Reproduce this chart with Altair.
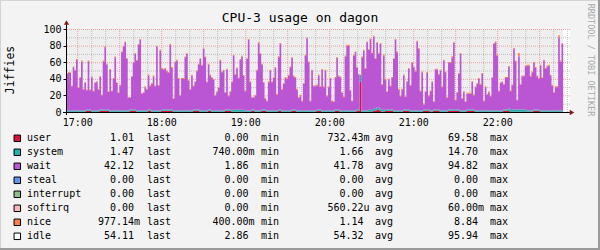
import altair as alt
import pandas as pd

TITLE = "CPU-3 usage on dagon"
Y_LABEL = "Jiffies"
WATERMARK = "RRDTOOL / TOBI OETIKER"
START = "2024-01-01 16:52:00"
END = "2024-01-01 22:52:00"
STEP = "71500ms"
GRID_FROM = "2024-01-01 17:00:00"
GRID_TO = "2024-01-01 22:50:00"
X_LABEL_HOURS = [17, 18, 19, 20, 21, 22]
Y_TICKS = [0, 20, 40, 60, 80, 100]
Y_MAJOR = [20, 40, 60, 80, 100]
Y_MINOR = [10, 30, 50, 70, 90]

WAIT = [
    44, 45, 45, 29, 52, 48, 61, 27, 39, 59, 25, 33, 23, 58, 23, 40, 23, 33, 34, 25,
    39, 17, 57, 75, 54, 21, 49, 23, 38, 64, 33, 21, 30, 70, 77, 82, 62, 15, 14, 39,
    56, 67, 60, 79, 85, 20, 21, 28, 25, 41, 28, 32, 41, 29, 77, 30, 72, 49, 48, 49,
    46,
    44, 78, 50, 14, 58, 60, 38, 18, 38, 38, 64, 68, 36, 25, 42, 28, 33, 46, 54, 62,
    54, 74, 64, 34, 54, 41, 39, 37, 18, 22, 27, 60, 46, 48, 20, 48, 16, 21, 34, 65,
    42, 50, 38, 60, 64, 41, 23, 62, 85, 34, 14, 14, 18, 48, 81, 68, 54, 32, 13, 11,
    34, 48, 34, 39, 51, 19, 63, 79, 25, 32, 39, 38, 42, 52, 62, 40, 38, 25, 15, 17,
    11, 32, 66, 87, 58, 11, 48, 29, 29, 29, 41, 27, 49, 28, 48, 17, 28, 38, 11, 10,
    38, 62, 40, 40, 21, 16, 65, 78, 78, 24, 11, 66, 70, 50, 42, 0, 64, 72, 50, 82,
    72, 85, 68, 87, 60, 78, 65, 78, 30, 65, 36, 21, 36, 28, 38, 62, 85, 70, 25, 17,
    25, 41, 15, 33, 49, 30, 57, 52, 47, 83, 74, 23, 46, 6, 21, 44, 16, 23, 34, 9,
    48, 48, 42, 48, 28, 60, 46, 15, 56, 56, 63, 80, 11, 20, 43, 68, 14, 22, 10, 19,
    19, 19, 33, 17, 28, 32, 38, 31, 44, 11, 28, 19, 22, 17, 39, 80, 82, 66, 23, 33,
    34, 30, 38, 38, 50, 22, 29, 73, 58, 11, 64, 30, 40, 40, 52, 54, 54, 41, 46, 56,
    50, 40, 37, 54, 39, 60, 50, 53, 54, 42, 30, 21, 28, 28, 88, 59, 80, 42,
]

USER = [
    0.3, 0.3, 0.3, 0.3, 0.3, 0.3, 0.3, 0.3, 0.3, 0.3, 0.3, 0.3, 1.5, 1.5, 1.5, 0.3, 0.3, 0.3, 0.3, 0.3,
    1.5, 1.5, 1.5, 1.5, 1.5, 1.5, 0.3, 0.3, 0.3, 0.3, 0.3, 0.3, 0.3, 0.3, 0.3, 0.3, 0.3, 0.3, 1.5, 1.5,
    1.5, 1.5, 0.3, 0.3, 0.3, 0.3, 0.3, 0.3, 0.3, 1.5, 1.5, 0.3, 0.3, 0.3, 0.3, 0.3, 0.3, 1.5, 1.5, 1.5,
    1.5, 1.5, 1.5, 1.5, 0.3, 0.3, 0.3, 0.3, 0.3, 0.3, 0.3, 0.3, 0.3, 0.3, 0.3, 0.3, 1.5, 1.5, 1.5, 1.5,
    0.3, 0.3, 0.3, 0.3, 0.3, 1.5, 1.5, 0.3, 0.3, 0.3, 0.3, 0.3, 0.3, 0.3, 0.3, 1.5, 1.5, 1.5, 1.5, 0.3,
    0.3, 0.3, 0.3, 0.3, 0.3, 0.3, 0.3, 0.3, 0.3, 0.3, 0.3, 1.5, 1.5, 0.3, 0.3, 0.3, 0.3, 1.5, 1.5, 1.5,
    0.3, 0.3, 0.3, 0.3, 0.3, 0.3, 0.3, 1.5, 1.5, 0.3, 0.3, 0.3, 0.3, 0.3, 0.3, 1.5, 1.5, 1.5, 0.3, 0.3,
    0.3, 0.3, 0.3, 0.3, 0.3, 0.3, 0.3, 0.3, 0.3, 0.3, 1.5, 1.5, 1.5, 0.3, 0.3, 0.3, 0.3, 0.3, 0.3, 0.3,
    0.3, 1.5, 1.5, 1.5, 0.3, 0.3, 0.3, 0.3, 0.3, 0.3, 0.3, 0.3, 0.3, 0.3, 1.5, 1.5, 36, 0.3, 0.3, 0.3,
    0.3, 0.3, 0.3, 0.3, 1.5, 1.5, 3, 3, 1.5, 0.3, 0.3, 1.5, 1.5, 1.5, 1.5, 1.5, 0.3, 0.3, 0.3, 0.3,
    0.3, 0.3, 1.5, 1.5, 1.5, 1.5, 0.3, 0.3, 0.3, 0.3, 0.3, 0.3, 0.3, 0.3, 1.5, 1.5, 1.5, 1.5, 0.3, 0.3,
    1.5, 1.5, 1.5, 1.5, 0.3, 0.3, 0.3, 0.3, 0.3, 1.5, 1.5, 1.5, 1.5, 1.5, 1.5, 1.5, 0.3, 0.3, 0.3, 0.3,
    1.5, 1.5, 1.5, 1.5, 1.5, 0.3, 0.3, 0.3, 0.3, 0.3, 0.3, 0.3, 0.3, 0.3, 0.3, 0.3, 0.3, 0.3, 0.3, 0.3,
    0.3, 0.3, 1.5, 1.5, 1.5, 1.5, 0.3, 0.3, 0.3, 0.3, 0.3, 0.3, 0.3, 0.3, 0.3, 0.3, 0.3, 0.3, 0.3, 0.3,
    1.5, 1.5, 1.5, 1.5, 0.3, 0.3, 0.3, 0.3, 0.3, 0.3, 0.3, 0.3, 0.3, 0.3, 0.3, 0.3, 0.3, 0.3, 1.5,
]

SYSTEM = [
    1.6, 1.6, 1.6, 1.6, 1.6, 1.6, 1.6, 1.6, 1.6, 1.6, 1.6, 1.6, 1.6, 1.6, 1.6, 1.6, 1.6, 1.6, 1.6, 1.6,
    1.6, 1.6, 1.6, 1.6, 1.6, 1.6, 1.6, 1.6, 1.6, 1.6, 1.6, 1.6, 1.6, 1.6, 1.6, 1.6, 1.6, 1.6, 1.6, 1.6,
    1.6, 1.6, 1.6, 1.6, 1.6, 1.6, 1.6, 1.6, 1.6, 1.6, 1.6, 1.6, 1.6, 1.6, 1.6, 1.6, 1.6, 1.6, 1.6, 1.6,
    1.6, 1.6, 1.6, 1.6, 1.6, 1.6, 1.6, 1.6, 1.6, 1.6, 1.6, 1.6, 1.6, 1.6, 1.6, 1.6, 1.6, 1.6, 1.6, 1.6,
    1.6, 1.6, 1.6, 1.6, 1.6, 1.6, 1.6, 1.6, 1.6, 1.6, 1.6, 1.6, 1.6, 1.6, 1.6, 1.6, 1.6, 1.6, 1.6, 1.6,
    2.4, 2.4, 2.4, 2.4, 2.4, 2.4, 2.4, 1.6, 1.6, 1.6, 1.6, 1.6, 1.6, 1.6, 1.6, 1.6, 1.6, 1.6, 1.6, 1.6,
    1.6, 1.6, 1.6, 1.6, 1.6, 1.6, 1.6, 1.6, 1.6, 1.6, 1.6, 1.6, 1.6, 1.6, 1.6, 1.6, 1.6, 1.6, 1.6, 1.6,
    1.6, 1.6, 1.6, 1.6, 1.6, 1.6, 1.6, 1.6, 1.6, 1.6, 1.6, 1.6, 1.6, 1.6, 1.6, 1.6, 1.6, 1.6, 1.6, 1.6,
    1.6, 1.6, 1.6, 1.6, 1.6, 1.6, 1.6, 1.6, 1.6, 1.6, 1.6, 1.6, 1.6, 1.6, 1.6, 1.6, 9, 1.6, 1.6, 1.6,
    1.6, 2.4, 2.4, 2.4, 2.4, 2.4, 2.4, 2.4, 2.4, 2.4, 2.4, 1.6, 1.6, 1.6, 1.6, 1.6, 1.6, 1.6, 1.6, 1.6,
    1.6, 1.6, 1.6, 1.6, 1.6, 1.6, 1.6, 1.6, 1.6, 1.6, 1.6, 1.6, 1.6, 1.6, 1.6, 1.6, 1.6, 1.6, 1.6, 1.6,
    1.6, 1.6, 1.6, 1.6, 1.6, 1.6, 1.6, 1.6, 1.6, 1.6, 1.6, 1.6, 1.6, 1.6, 1.6, 1.6, 1.6, 1.6, 1.6, 1.6,
    1.6, 1.6, 1.6, 1.6, 1.6, 1.6, 1.6, 1.6, 1.6, 1.6, 1.6, 1.6, 1.6, 1.6, 1.6, 1.6, 1.6, 1.6, 1.6, 1.6,
    1.6, 1.6, 1.6, 1.6, 1.6, 2.8, 2.8, 2.8, 2.8, 2.8, 2.8, 2.8, 2.8, 2.8, 2.8, 2.8, 1.6, 1.6, 1.6, 1.6,
    1.6, 1.6, 1.6, 1.6, 1.6, 1.6, 1.6, 1.6, 1.6, 1.6, 1.6, 1.6, 1.6, 1.6, 1.6, 1.6, 1.6, 1.6, 1.6,
]

NICE = [
    1, 1, 1, 1, 1, 1, 1, 1, 1, 1, 1, 1, 1, 1, 1, 1, 1, 1, 1, 1,
    1, 1, 2, 1, 1, 1, 1, 1, 1, 1, 1, 1, 1, 1, 1, 1, 1, 1, 1, 1,
    1, 1, 1, 1, 1, 1, 1, 1, 1, 1, 1, 1, 1, 1, 1, 1, 1, 1, 1, 1,
    1, 1, 1, 1, 1, 1, 1, 1, 1, 1, 1, 1, 1, 1, 1, 1, 1, 1, 1, 1,
    1, 1, 1, 1, 1, 1, 1, 1, 1, 1, 1, 1, 1, 1, 1, 1, 1, 1, 1, 1,
    1, 1, 1, 1, 1, 1, 1, 1, 1, 1, 1, 1, 1, 1, 1, 1, 1, 1, 1, 1,
    1, 1, 1, 1, 1, 1, 1, 1, 1, 1, 1, 1, 1, 1, 1, 1, 1, 1, 1, 1,
    2, 1, 1, 1, 1, 1, 1, 1, 1, 1, 1, 1, 1, 1, 1, 1, 1, 1, 1, 1,
    1, 1, 1, 1, 1, 1, 1, 1, 1, 1, 1, 1, 1, 1, 1, 1, 0, 1, 1, 1,
    1, 1, 1, 1, 1, 1, 1, 1, 1, 1, 2, 1, 1, 1, 1, 1, 1, 1, 1, 1,
    1, 1, 1, 1, 1, 1, 1, 1, 1, 1, 1, 1, 1, 1, 1, 1, 1, 1, 1, 1,
    1, 1, 1, 1, 1, 1, 1, 1, 1, 1, 1, 1, 1, 1, 1, 1, 1, 1, 1, 1,
    1, 1, 1, 1, 1, 1, 1, 1, 1, 1, 1, 1, 1, 1, 1, 1, 1, 1, 1, 1,
    1, 1, 1, 1, 1, 1, 1, 1, 1, 1, 1, 4, 1, 1, 1, 1, 1, 1, 1, 1,
    1, 1, 1, 1, 1, 1, 1, 1, 1, 1, 1, 1, 1, 1, 1, 2.5, 1, 1, 1,
]

SERIES = ["user", "system", "wait", "steal", "interrupt", "softirq", "nice", "idle"]
COLORS = ["#dc143c", "#20b2aa", "#ba55d3", "#6495ed", "#8fbc8f", "#ffb6c1", "#ff7f50", "#ffffff"]
LAST = ["1.01", "1.47", "42.12", "0.00", "0.00", "0.00", "977.14m", "54.11"]
MIN = ["0.00", "740.00m", "1.86", "0.00", "0.00", "0.00", "400.00m", "2.86"]
AVG = ["732.43m", "1.66", "41.78", "0.00", "0.00", "560.22u", "1.14", "54.32"]
MAX = ["69.58", "14.70", "94.82", "0.00", "0.00", "60.00m", "8.84", "95.94"]
STAT_LABELS = ["last", "min", "avg", "max"]

assert len(USER) == len(WAIT) == len(SYSTEM) == len(NICE), (len(USER), len(WAIT), len(SYSTEM), len(NICE))

FONT = "DejaVu Sans Mono"
W, H = 504, 83
PL, PT = 66, 29

times = pd.date_range(START, periods=len(WAIT), freq=STEP)
parts = []
for name, vals in (("user", USER), ("system", SYSTEM), ("wait", WAIT), ("nice", NICE)):
    parts.append(pd.DataFrame({"t": times, "series": name, "v": vals, "ord": SERIES.index(name)}))
df = pd.concat(parts, ignore_index=True)


def dt(s):
    ts = pd.Timestamp(s)
    return alt.DateTime(year=ts.year, month=ts.month, date=ts.day, hours=ts.hour, minutes=ts.minute)


XSC = alt.Scale(domain=[dt(START), dt(END)])
YSC = alt.Scale(domain=[0, 100], nice=False, zero=True)
XAX = alt.Axis(values=[alt.DateTime(year=2024, month=1, date=1, hours=h) for h in X_LABEL_HOURS],
               format="%H:%M", labelFont=FONT, labelFontSize=10, labelColor="#000000",
               ticks=False, domain=False, grid=False, title=None, labelPadding=5,
               labelFlush=False, labelOverlap=False)
YAX = alt.Axis(values=Y_TICKS, labelFont=FONT, labelFontSize=10, labelColor="#000000",
               ticks=True, tickSize=3, tickColor="#000000", domain=False, grid=False,
               title=None, labelPadding=2)

# no-data strip (white) at the right end
strip = alt.Chart(pd.DataFrame({"t0": [times[-1]], "t1": [pd.Timestamp(END)]})).mark_rect(
    color="#ffffff").encode(
    x=alt.X("t0:T", scale=XSC, axis=XAX), x2="t1:T",
    y=alt.Y(datum=100, scale=YSC, axis=YAX), y2=alt.Y2(datum=0))

gt = pd.date_range(GRID_FROM, GRID_TO, freq="10min")
vgrid = pd.DataFrame({"t": gt, "major": [ts.minute % 30 == 0 for ts in gt]})
vminor = alt.Chart(vgrid[~vgrid["major"]]).mark_rule(
    color="#bdbdbd", strokeWidth=1, strokeDash=[1, 1], xOffset=0.5).encode(
    x=alt.X("t:T", scale=XSC, axis=XAX))
vmajor = alt.Chart(vgrid[vgrid["major"]]).mark_rule(
    color="#e8a0a0", strokeWidth=1, strokeDash=[1, 1], xOffset=0.5).encode(
    x=alt.X("t:T", scale=XSC, axis=XAX))
hminor = alt.Chart(pd.DataFrame({"y": Y_MINOR})).mark_rule(
    color="#bdbdbd", strokeWidth=1, strokeDash=[1, 1], yOffset=0.5).encode(
    y=alt.Y("y:Q", scale=YSC, axis=YAX))
hmajor = alt.Chart(pd.DataFrame({"y": Y_MAJOR})).mark_rule(
    color="#e8a0a0", strokeWidth=1, strokeDash=[1, 1], yOffset=0.5).encode(
    y=alt.Y("y:Q", scale=YSC, axis=YAX))

areas = alt.Chart(df).mark_area(interpolate="step-after").encode(
    x=alt.X("t:T", scale=XSC, axis=XAX),
    y=alt.Y("v:Q", stack="zero", scale=YSC, axis=YAX),
    color=alt.Color("series:N", scale=alt.Scale(domain=SERIES, range=COLORS), legend=None),
    order=alt.Order("ord:Q", sort="ascending"),
)

one = pd.DataFrame({"k": [0]})
xaxis_line = alt.Chart(one).mark_rule(color="#000000", strokeWidth=1).encode(
    x=alt.value(-3), x2=alt.value(505), y=alt.value(H + 0.5))
yaxis_line = alt.Chart(one).mark_rule(color="#000000", strokeWidth=1).encode(
    x=alt.value(0.5), y=alt.value(-6), y2=alt.value(H + 3))
arrow_up = alt.Chart(one).mark_point(shape="triangle-up", filled=True, size=28,
                                     color="#8b1a1a", opacity=1).encode(
    x=alt.value(0.5), y=alt.value(-6.5))
arrow_right = alt.Chart(one).mark_point(shape="triangle-right", filled=True, size=28,
                                        color="#8b1a1a", opacity=1).encode(
    x=alt.value(506), y=alt.value(H + 0.5))

title = alt.Chart(pd.DataFrame({"s": [TITLE]})).mark_text(
    font=FONT, fontSize=13, color="#000000", align="center", baseline="middle").encode(
    x=alt.value(300 - PL), y=alt.value(18 - PT), text="s:N")
ylab = alt.Chart(pd.DataFrame({"s": [Y_LABEL]})).mark_text(
    font=FONT, fontSize=11.5, color="#000000", align="center", baseline="middle", angle=270).encode(
    x=alt.value(11 - PL), y=alt.value(70 - PT), text="s:N")
wmark = alt.Chart(pd.DataFrame({"s": [WATERMARK]})).mark_text(
    font=FONT, fontSize=8.5, color="#aaaaaa", align="center", baseline="middle", angle=90).encode(
    x=alt.value(590.5 - PL), y=alt.value(60 - PT), text="s:N")

# frame borders
def frame(x0, x1, y0, y1, c):
    return alt.Chart(one).mark_rect(color=c).encode(
        x=alt.value(x0 - PL), x2=alt.value(x1 - PL), y=alt.value(y0 - PT), y2=alt.value(y1 - PT))

borders = [frame(0, 600, 0, 1, "#d4d4d4"), frame(0, 1, 0, 250, "#d4d4d4"),
           frame(598, 600, 0, 250, "#9a9a9a"), frame(0, 600, 248, 250, "#9a9a9a")]

main = alt.layer(strip, vminor, hminor, vmajor, hmajor, areas, xaxis_line, yaxis_line,
                 arrow_up, arrow_right, title, ylab, wmark, *borders)

# legend table
def split(s):
    num = s.rstrip("mu")
    return num, s[len(num):]

leg = pd.DataFrame({"row": list(range(len(SERIES))), "name": SERIES, "color": COLORS})
for lab, col in zip(STAT_LABELS, (LAST, MIN, AVG, MAX)):
    leg[lab + "_n"] = [split(s)[0] for s in col]
    leg[lab + "_s"] = [split(s)[1] for s in col]
    leg[lab + "_l"] = lab

RY = alt.Y("row:Q", scale=alt.Scale(domain=[0, 7], range=[138.3 - PT, 236.3 - PT]), axis=None)
base = alt.Chart(leg)
leg_layers = [
    base.mark_square(size=42, stroke="#000000", strokeWidth=1, opacity=1).encode(
        x=alt.value(17.3 - PL), y=RY, fill=alt.Fill("color:N", scale=None)),
    base.mark_text(font=FONT, fontSize=10, align="left", baseline="middle", color="#000000").encode(
        x=alt.value(27 - PL), y=RY, text="name:N"),
]
POS = {"last": (134, 147), "min": (248.5, 261), "avg": (363.5, 375), "max": (478, 490)}
for lab in STAT_LABELS:
    xr, xl = POS[lab]
    leg_layers.append(base.mark_text(font=FONT, fontSize=10, align="right", baseline="middle",
                                     color="#000000").encode(
        x=alt.value(xr - PL), y=RY, text=f"{lab}_n:N"))
    leg_layers.append(base.mark_text(font=FONT, fontSize=10, align="left", baseline="middle",
                                     color="#000000").encode(
        x=alt.value(xr - PL), y=RY, text=f"{lab}_s:N"))
    leg_layers.append(base.mark_text(font=FONT, fontSize=10, align="left", baseline="middle",
                                     color="#000000").encode(
        x=alt.value(xl - PL), y=RY, text=f"{lab}_l:N"))
legend = alt.layer(*leg_layers)

chart = alt.layer(main, legend).resolve_scale(y="independent").properties(
    width=W, height=H,
    padding={"left": PL, "top": PT, "right": 600 - PL - W, "bottom": 250 - PT - H},
    autosize=alt.AutoSizeParams(type="none"),
    background="#f3f3f3",
).configure_view(fill="#eeeeee", stroke=None)

chart.save("out.html", embed_options={"renderer": "svg", "actions": False})
